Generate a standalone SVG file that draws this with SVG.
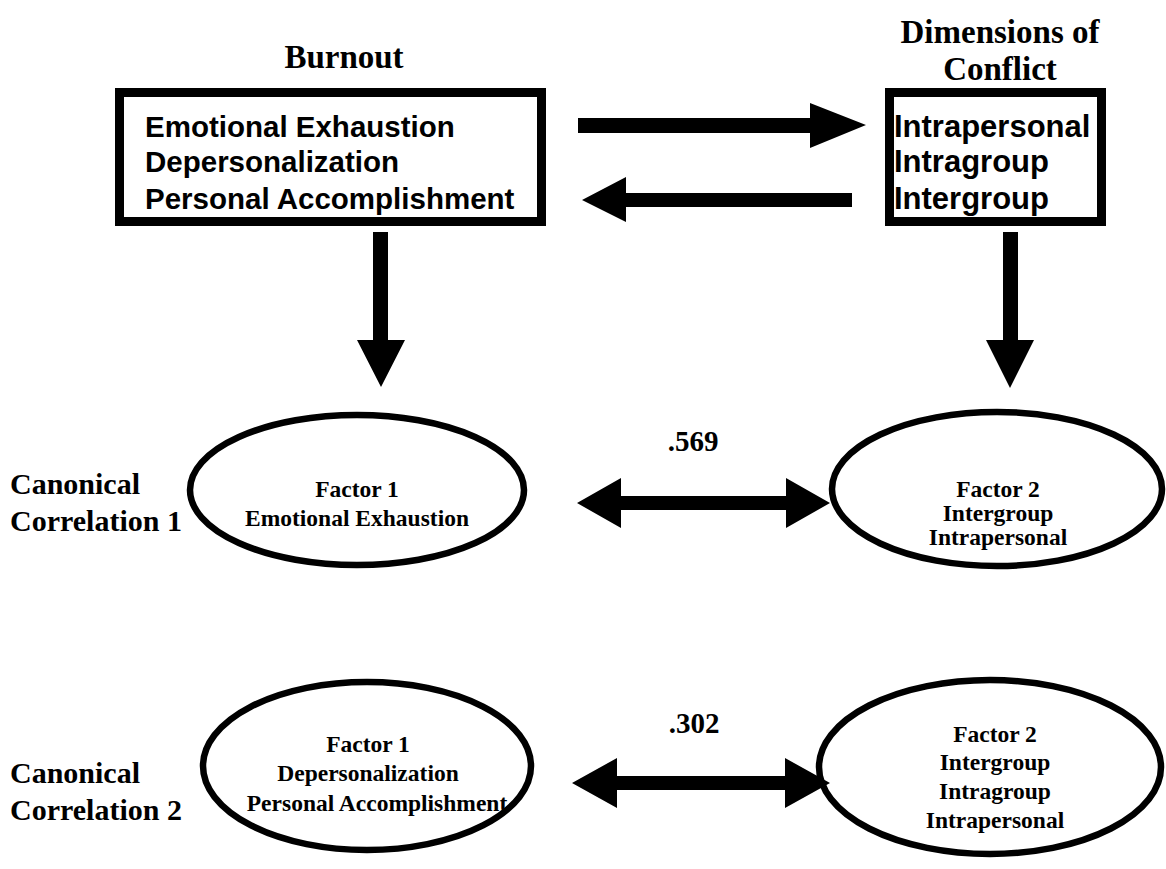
<svg xmlns="http://www.w3.org/2000/svg" width="1166" height="869" viewBox="0 0 1166 869">
  <style>
    .title { font-family: "Liberation Serif", "Times New Roman", serif; font-weight: bold; font-size: 33px; fill: #000; text-anchor: middle; }
    .side { font-family: "Liberation Serif", "Times New Roman", serif; font-weight: bold; font-size: 30px; fill: #000; }
    .item { font-family: "Liberation Sans", Arial, sans-serif; font-weight: bold; font-size: 29.5px; fill: #000; }
    .item-r { font-family: "Liberation Sans", Arial, sans-serif; font-weight: bold; font-size: 31px; fill: #000; }
    .factor { font-family: "Liberation Serif", "Times New Roman", serif; font-weight: bold; font-size: 23.5px; fill: #000; text-anchor: middle; }
    .coef { font-family: "Liberation Serif", "Times New Roman", serif; font-weight: bold; font-size: 29px; fill: #000; text-anchor: middle; }
    .box { fill: #fff; stroke: #000; stroke-width: 9; }
    .oval { fill: #fff; stroke: #000; stroke-width: 6.5; }
    .arrow { fill: #000; stroke: none; }
  </style>
  <rect width="1166" height="869" fill="#fff"/>

  <!-- Burnout block -->
  <g id="burnout">
    <text class="title" x="344" y="68">Burnout</text>
    <rect class="box" x="119.5" y="92.5" width="422" height="129"/>
    <text class="item" x="145" y="137">Emotional Exhaustion</text>
    <text class="item" x="145" y="172">Depersonalization</text>
    <text class="item" x="145" y="209">Personal Accomplishment</text>
  </g>

  <!-- Conflict block -->
  <g id="conflict">
    <text class="title" x="1000" y="43">Dimensions of</text>
    <text class="title" x="1000" y="80">Conflict</text>
    <rect class="box" x="889.5" y="92.5" width="212" height="129"/>
    <text class="item-r" x="894" y="137">Intrapersonal</text>
    <text class="item-r" x="894" y="172">Intragroup</text>
    <text class="item-r" x="894" y="209">Intergroup</text>
  </g>

  <!-- Canonical correlation row labels -->
  <g id="label-cc1">
    <text class="side" x="10" y="494">Canonical</text>
    <text class="side" x="10" y="531">Correlation 1</text>
  </g>
  <g id="label-cc2">
    <text class="side" x="10" y="783">Canonical</text>
    <text class="side" x="10" y="820">Correlation 2</text>
  </g>

  <!-- Factor ovals -->
  <g id="cc1-burnout">
    <ellipse class="oval" cx="357" cy="490" rx="167" ry="75"/>
    <text class="factor" x="357" y="497">Factor 1</text>
    <text class="factor" x="357" y="526">Emotional Exhaustion</text>
  </g>
  <g id="cc1-conflict">
    <ellipse class="oval" cx="997" cy="489" rx="165" ry="77"/>
    <text class="factor" x="998" y="497">Factor 2</text>
    <text class="factor" x="998" y="521">Intergroup</text>
    <text class="factor" x="998" y="545">Intrapersonal</text>
  </g>
  <g id="cc2-burnout">
    <ellipse class="oval" cx="367" cy="766" rx="164" ry="84"/>
    <text class="factor" x="368" y="752">Factor 1</text>
    <text class="factor" x="368" y="781">Depersonalization</text>
    <text class="factor" x="377" y="811">Personal Accomplishment</text>
  </g>
  <g id="cc2-conflict">
    <ellipse class="oval" cx="990" cy="767" rx="171" ry="87"/>
    <text class="factor" x="995" y="742">Factor 2</text>
    <text class="factor" x="995" y="770">Intergroup</text>
    <text class="factor" x="995" y="799">Intragroup</text>
    <text class="factor" x="995" y="828">Intrapersonal</text>
  </g>

  <!-- Connectors: block arrows -->
  <g id="connectors">
    <!-- Burnout to Conflict -->
    <polygon class="arrow" points="578,118 810,118 810,103 866,125 810,148 810,133 578,133"/>
    <!-- Conflict to Burnout -->
    <polygon class="arrow" points="852,193 626,193 626,177 582,200 626,222 626,207 852,207"/>
    <!-- Burnout down to its factor -->
    <polygon class="arrow" points="373,232 388,232 388,340 405,340 381,387 357,340 373,340"/>
    <!-- Conflict down to its factor -->
    <polygon class="arrow" points="1003,232 1018,232 1018,340 1034,340 1010,388 986,340 1003,340"/>
    <!-- Canonical correlation 1 (two-headed) -->
    <polygon class="arrow" points="577,503 621,478 621,496 786,496 786,478 830,503 786,528 786,510 621,510 621,528"/>
    <!-- Canonical correlation 2 (two-headed) -->
    <polygon class="arrow" points="572,783 617,758 617,776 785,776 785,758 830,783 785,808 785,790 617,790 617,808"/>
    <text class="coef" x="693" y="451">.569</text>
    <text class="coef" x="694" y="733">.302</text>
  </g>
</svg>
